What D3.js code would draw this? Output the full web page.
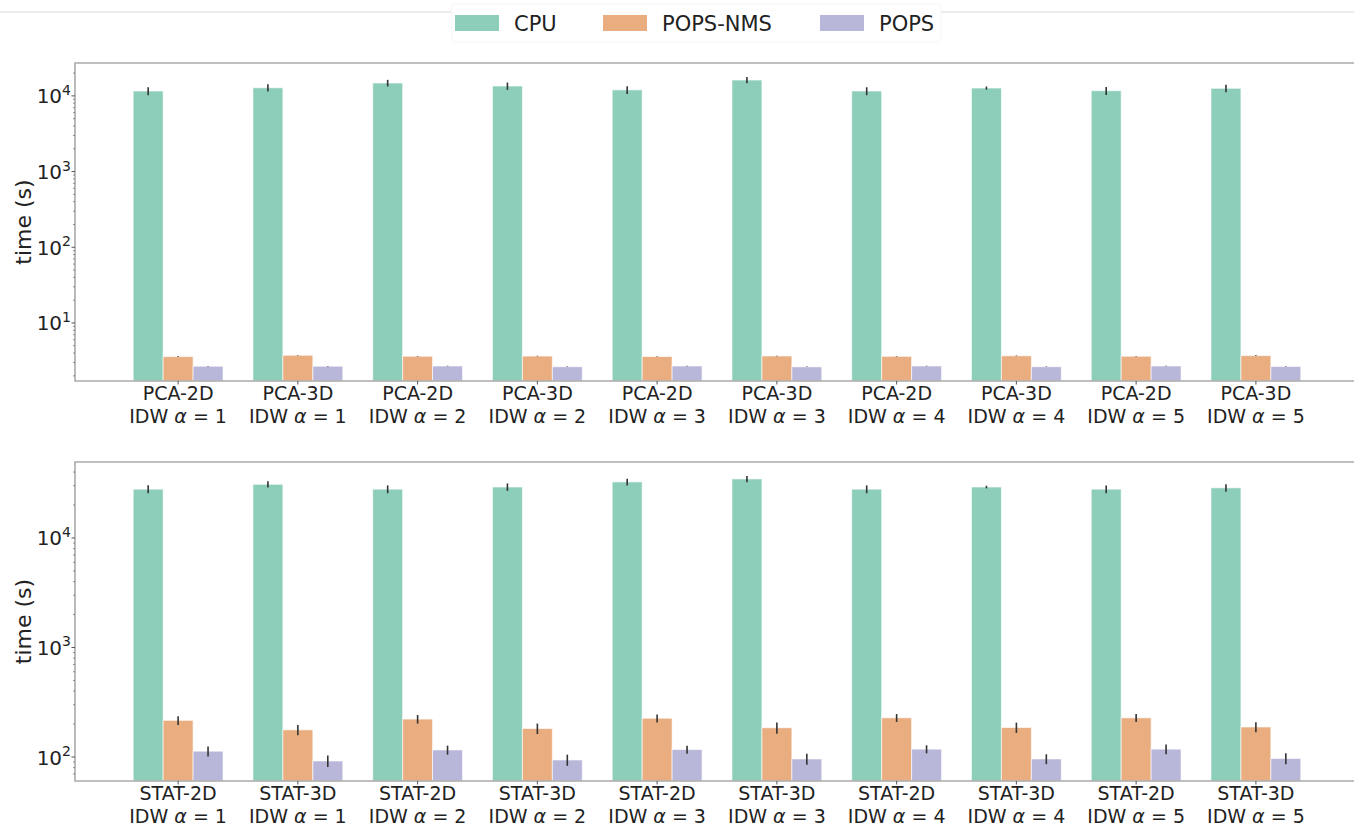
<!DOCTYPE html>
<html>
<head>
<meta charset="utf-8">
<script src="https://cdn.jsdelivr.net/npm/d3@7"></script>
<style>
  body { margin: 0; background: #fff; }
  svg text { font-family: "DejaVu Sans", sans-serif; fill: #222; }
</style>
</head>
<body>
<div id="chart"></div>
<script>
var w = 1354;
var h = 828;

// series and categories
var seriesNames = ["CPU", "POPS-NMS", "POPS"];
var seriesColors = ["#8dcebb", "#eaad80", "#b8b7d9"];
var alphas = [1, 1, 2, 2, 3, 3, 4, 4, 5, 5];
var topMethods = ["PCA-2D", "PCA-3D", "PCA-2D", "PCA-3D", "PCA-2D", "PCA-3D", "PCA-2D", "PCA-3D", "PCA-2D", "PCA-3D"];
var bottomMethods = ["STAT-2D", "STAT-3D", "STAT-2D", "STAT-3D", "STAT-2D", "STAT-3D", "STAT-2D", "STAT-3D", "STAT-2D", "STAT-3D"];

// top panel (PCA), seconds
var topCPU      = [11600, 12800, 14800, 13500, 12000, 16200, 11600, 12700, 11700, 12600];
var topCPUErr   = [1400, 1400, 1500, 1500, 1400, 1500, 1400, 600, 1400, 1400];
var topNMS      = [3.59, 3.74, 3.63, 3.65, 3.60, 3.66, 3.62, 3.68, 3.63, 3.70];
var topNMSErr   = [0.03, 0.03, 0.03, 0.03, 0.03, 0.03, 0.03, 0.03, 0.03, 0.03];
var topPOPS     = [2.68, 2.68, 2.70, 2.64, 2.70, 2.63, 2.70, 2.64, 2.70, 2.66];
var topPOPSErr  = [0.02, 0.02, 0.02, 0.02, 0.02, 0.02, 0.02, 0.02, 0.02, 0.02];

// bottom panel (STAT), seconds
var botCPU      = [27900, 30900, 27900, 29200, 32500, 34600, 27900, 29200, 27900, 28700];
var botCPUErr   = [2350, 2000, 2300, 2300, 2300, 2300, 2300, 800, 2300, 2300];
var botNMS      = [216, 177, 222, 182, 226, 185, 228, 186, 228, 188];
var botNMSErr   = [20, 19, 20, 20, 19, 22, 19, 20, 19, 20];
var botPOPS     = [113, 92, 116, 94, 117, 96, 118, 96, 118, 97];
var botPOPSErr  = [12, 11, 11, 11, 10, 11, 10, 10, 12, 11];

var svg = d3.select("#chart")
    .append("svg")
    .attr("width", w)
    .attr("height", h);

// faint line across the top, legend box sits on it
svg.append("line")
    .attr("x1", 0).attr("x2", w)
    .attr("y1", 12).attr("y2", 12)
    .attr("stroke", "#e6e6e6")
    .attr("stroke-width", 1.5);

var legend = svg.append("g");
legend.append("rect")
    .attr("x", 452).attr("y", 4)
    .attr("width", 489).attr("height", 38)
    .attr("rx", 3)
    .attr("fill", "#fff")
    .attr("stroke", "#f5f5f5");

var legendX = [455, 603, 820];
seriesNames.forEach(function (name, i) {
    legend.append("rect")
        .attr("x", legendX[i]).attr("y", 15)
        .attr("width", 44).attr("height", 16)
        .attr("fill", seriesColors[i]);
    legend.append("text")
        .attr("x", legendX[i] + 59)
        .attr("y", 23)
        .attr("dy", "0.36em")
        .style("font-size", "21px")
        .text(name);
});

function drawPanel(cfg) {
    var left = 75, right = 1359;
    var top = cfg.top, bottom = cfg.bottom;

    var x = d3.scaleBand()
        .domain(d3.range(10))
        .range([left, right])
        .paddingInner(0.25)
        .paddingOuter(0.486);

    var xs = d3.scaleBand()
        .domain(seriesNames)
        .range([0, x.bandwidth()]);

    var y = d3.scaleLog()
        .domain(cfg.domain)
        .range([bottom, top]);

    var g = svg.append("g");

    // bars and error bars
    var values = [cfg.cpu, cfg.nms, cfg.pops];
    var errors = [cfg.cpuErr, cfg.nmsErr, cfg.popsErr];
    seriesNames.forEach(function (name, s) {
        var rows = values[s].map(function (v, i) {
            return { i: i, v: v, e: errors[s][i] };
        });
        g.selectAll(".bar" + s)
            .data(rows)
            .enter().append("rect")
            .attr("x", function (d) { return x(d.i) + xs(name); })
            .attr("y", function (d) { return y(d.v); })
            .attr("width", xs.bandwidth())
            .attr("height", function (d) { return bottom - y(d.v); })
            .attr("fill", seriesColors[s])
            .attr("stroke", "rgba(255,255,255,0.6)")
            .attr("stroke-width", 1);
        g.selectAll(".err" + s)
            .data(rows)
            .enter().append("line")
            .attr("x1", function (d) { return x(d.i) + xs(name) + xs.bandwidth() / 2; })
            .attr("x2", function (d) { return x(d.i) + xs(name) + xs.bandwidth() / 2; })
            .attr("y1", function (d) { return y(d.v - d.e); })
            .attr("y2", function (d) { return y(d.v + d.e); })
            .attr("stroke", "#333")
            .attr("stroke-width", 1.6);
    });

    // spines (right one falls outside the picture)
    g.append("path")
        .attr("d", "M" + right + "," + top + "H" + left + "V" + bottom + "H" + right)
        .attr("fill", "none")
        .attr("stroke", "#aaaaaa")
        .attr("stroke-width", 1.6);

    // y ticks: majors and minors of the log scale
    var lo = Math.floor(Math.log10(cfg.domain[0])), hi = Math.ceil(Math.log10(cfg.domain[1]));
    var minors = [], majors = [];
    for (var k = lo; k <= hi; k++) {
        for (var m = 1; m < 10; m++) {
            var v = m * Math.pow(10, k);
            if (v < cfg.domain[0] || v > cfg.domain[1]) continue;
            if (m === 1) majors.push(k); else minors.push(v);
        }
    }
    g.selectAll(".minor")
        .data(minors)
        .enter().append("line")
        .attr("x1", left - 2).attr("x2", left)
        .attr("y1", function (d) { return y(d); })
        .attr("y2", function (d) { return y(d); })
        .attr("stroke", "#777")
        .attr("stroke-width", 0.8);
    g.selectAll(".major")
        .data(majors)
        .enter().append("line")
        .attr("x1", left - 3.5).attr("x2", left)
        .attr("y1", function (d) { return y(Math.pow(10, d)); })
        .attr("y2", function (d) { return y(Math.pow(10, d)); })
        .attr("stroke", "#555")
        .attr("stroke-width", 1);
    var lab = g.selectAll(".ylab")
        .data(majors)
        .enter().append("text")
        .attr("x", 71)
        .attr("y", function (d) { return y(Math.pow(10, d)) + 7.5; })
        .attr("text-anchor", "end")
        .style("font-size", "20px");
    lab.append("tspan").text("10");
    lab.append("tspan")
        .attr("dy", -8.5)
        .style("font-size", "14px")
        .text(function (d) { return d; });

    g.append("text")
        .attr("transform", "translate(23," + (top + bottom) / 2 + ") rotate(-90)")
        .attr("text-anchor", "middle")
        .attr("dy", "0.36em")
        .style("font-size", "22px")
        .text("time (s)");

    // x ticks and two-line labels
    var xt = g.selectAll(".xt")
        .data(d3.range(10))
        .enter().append("g")
        .attr("transform", function (i) { return "translate(" + (x(i) + x.bandwidth() / 2) + "," + bottom + ")"; });
    xt.append("line")
        .attr("y1", 0).attr("y2", 3.5)
        .attr("stroke", "#555");
    xt.append("text")
        .attr("y", 19)
        .attr("text-anchor", "middle")
        .style("font-size", "19px")
        .text(function (i) { return cfg.methods[i]; });
    var l2 = xt.append("text")
        .attr("y", 41.5)
        .attr("text-anchor", "middle")
        .style("font-size", "19px");
    l2.append("tspan").text("IDW ");
    l2.append("tspan").style("font-style", "italic").text("\u03b1");
    l2.append("tspan").text(function (i) { return " = " + alphas[i]; });
}

drawPanel({
    top: 63, bottom: 381, domain: [1.71, 27200],
    methods: topMethods,
    cpu: topCPU, cpuErr: topCPUErr,
    nms: topNMS, nmsErr: topNMSErr,
    pops: topPOPS, popsErr: topPOPSErr
});

// the figure is cropped just under the second label row of this panel
drawPanel({
    top: 462, bottom: 781, domain: [60.4, 49400],
    methods: bottomMethods,
    cpu: botCPU, cpuErr: botCPUErr,
    nms: botNMS, nmsErr: botNMSErr,
    pops: botPOPS, popsErr: botPOPSErr
});
</script>
</body>
</html>
